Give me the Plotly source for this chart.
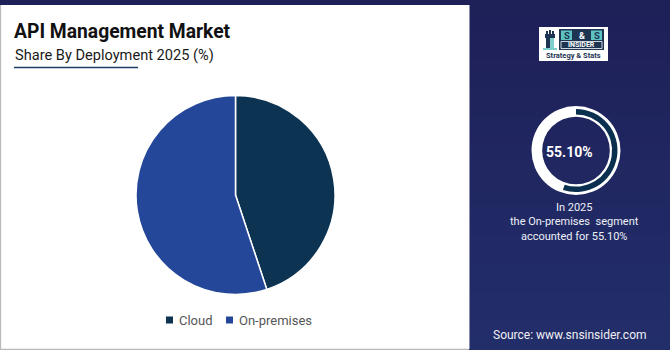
import plotly.graph_objects as go

# Market share by deployment, 2025 (%)
segments = ["Cloud", "On-premises"]
shares = [44.90, 55.10]
seg_colors = ["#0c3352", "#24479a"]

title = "API Management Market"
subtitle = "Share By Deployment 2025 (%)"
highlight_segment = "On-premises"
highlight_value = 55.10
highlight_year = 2025
source_text = "Source: www.snsinsider.com"

W, H = 670, 350
NAVY = "#1e2058"


def px(x):
    return x / W


def py(y):
    return 1 - y / H


def box(x0, y0, x1, y1):
    return dict(x=[px(x0), px(x1)], y=[py(y1), py(y0)])


fig = go.Figure()

# Main pie
fig.add_trace(go.Pie(
    labels=segments, values=shares, sort=False, direction="clockwise", rotation=0,
    marker=dict(colors=seg_colors, line=dict(color="white", width=1.5)),
    textinfo="none", hoverinfo="label+percent",
    domain=box(136, 95.5, 335, 294.5), showlegend=False,
))

# Highlight ring on the side panel
hi_idx = segments.index(highlight_segment)
fig.add_trace(go.Pie(
    values=[1], marker=dict(colors=["white"], line=dict(width=0)),
    hole=0.76, textinfo="none", hoverinfo="skip", sort=False, showlegend=False,
    domain=box(576 - 44.5, 150.5 - 44.5, 576 + 44.5, 150.5 + 44.5),
))
fig.add_trace(go.Pie(
    values=[shares[hi_idx], 100 - shares[hi_idx]],
    marker=dict(colors=["#0b2f4e", "rgba(0,0,0,0)"], line=dict(width=0)),
    hole=0.87, textinfo="none", hoverinfo="skip", sort=False,
    direction="clockwise", rotation=0, showlegend=False,
    domain=box(576 - 41.5, 150.5 - 41.5, 576 + 41.5, 150.5 + 41.5),
))

shapes = []
# side panel gradient
top_rgb = (30, 32, 88)
bot_rgb = (34, 46, 106)
n = 24
for i in range(n):
    t = i / (n - 1)
    c = tuple(round(a + (b - a) * t) for a, b in zip(top_rgb, bot_rgb))
    y0 = 350 * i / n
    y1 = 350 * (i + 1) / n + 0.5
    shapes.append(dict(type="rect", xref="paper", yref="paper", x0=px(469), x1=1,
                       y0=py(y1), y1=py(y0), fillcolor="rgb(%d,%d,%d)" % c,
                       line=dict(width=0), layer="below"))
# white content card
shapes.append(dict(type="rect", xref="paper", yref="paper", x0=0, x1=px(469),
                   y0=py(349), y1=py(5), fillcolor="white",
                   line=dict(width=0), layer="below"))
shapes.append(dict(type="line", xref="paper", yref="paper", x0=px(0.5), x1=px(0.5),
                   y0=py(349), y1=py(5), line=dict(color="#b8b8b8", width=1.2)))
shapes.append(dict(type="line", xref="paper", yref="paper", x0=0, x1=px(469),
                   y0=py(349.3), y1=py(349.3), line=dict(color="#b8b8b8", width=1.2)))
shapes.append(dict(type="line", xref="paper", yref="paper", x0=px(469.5), x1=px(469.5),
                   y0=py(349), y1=py(5), line=dict(color="#8a8cae", width=1)))
# subtitle underline
shapes.append(dict(type="line", xref="paper", yref="paper", x0=px(14), x1=px(138),
                   y0=py(67.5), y1=py(67.5), line=dict(color="#1c3f66", width=1.5)))


def rect(x0, y0, x1, y1, color):
    shapes.append(dict(type="rect", xref="paper", yref="paper", x0=px(x0), x1=px(x1),
                       y0=py(y1), y1=py(y0), fillcolor=color, line=dict(width=0)))


# logo block
rect(539, 27, 608, 61, "white")
rect(559, 29, 604, 50, "#1d3552")
rect(561, 30.5, 572, 40, "#5ec3c0")
rect(591, 30.5, 602, 40, "#5ec3c0")
shapes.append(dict(type="rect", xref="paper", yref="paper", x0=px(561), x1=px(602),
                   y0=py(48.5), y1=py(41.5), line=dict(color="white", width=0.8)))
# tower glyph
rect(545, 34, 555, 38, "#1d3552")
rect(546, 31, 548, 34, "#1d3552")
rect(549, 30, 551, 34, "#1d3552")
rect(552, 31, 554, 34, "#1d3552")
rect(546, 38, 550, 50, "#1d3552")
rect(550, 38, 554, 50, "#7fd0cc")
rect(543, 48, 557, 50, "#7fd0cc")

# legend squares and labels, laid out from the segment list
legend_y = 320
legend_x = [166, 226]
for name, color, lx in zip(segments, seg_colors, legend_x):
    rect(lx, legend_y - 3.5, lx + 7, legend_y + 3.5, color)

annotations = [
    dict(text="<b>%s</b>" % title, x=px(12), y=py(45), xanchor="left", yanchor="bottom",
         showarrow=False, font=dict(family="Roboto", size=19.3, color="#111111")),
    dict(text=subtitle, x=px(12.5), y=py(65.5), xanchor="left", yanchor="bottom",
         showarrow=False, font=dict(family="Roboto", size=14.6, color="#1a1a1a")),
    dict(text="<b>%.2f%%</b>" % highlight_value, x=px(569), y=py(152), xanchor="center",
         yanchor="middle", showarrow=False, font=dict(family="Roboto", size=14, color="white")),
    dict(text=source_text, x=px(570), y=py(335), xanchor="center", yanchor="middle",
         showarrow=False, font=dict(family="Roboto", size=12, color="#f0f0f5")),
    # logo lettering
    dict(text="<b>S</b>", x=px(566.5), y=py(35.5), xanchor="center", yanchor="middle", showarrow=False,
         font=dict(family="Roboto", size=9.5, color="#1d3552")),
    dict(text="<b>&amp;</b>", x=px(581.5), y=py(35.5), xanchor="center", yanchor="middle", showarrow=False,
         font=dict(family="Roboto", size=9, color="white")),
    dict(text="<b>S</b>", x=px(596.5), y=py(35.5), xanchor="center", yanchor="middle", showarrow=False,
         font=dict(family="Roboto", size=9.5, color="#1d3552")),
    dict(text="<b>INSIDER</b>", x=px(581.5), y=py(45), xanchor="center", yanchor="middle", showarrow=False,
         font=dict(family="Roboto", size=7, color="white")),
    dict(text="<b>Strategy &amp; Stats</b>", x=px(573.5), y=py(55.5), xanchor="center", yanchor="middle",
         showarrow=False, font=dict(family="Roboto", size=7.5, color="#1d3552")),
]

for name, lx in zip(segments, legend_x):
    annotations.append(dict(text=name, x=px(lx + 11), y=py(legend_y), xanchor="left", yanchor="middle",
                            showarrow=False, font=dict(family="Roboto", size=13, color="#555555")))

caption = ["In %d" % highlight_year,
           "the %s  segment" % highlight_segment,
           "accounted for %.2f%%" % highlight_value]
annotations.append(dict(text="<br>".join(caption), x=px(574), y=py(222), xanchor="center",
                        yanchor="middle", align="center", showarrow=False,
                        font=dict(family="Roboto", size=11, color="#eef0f8")))

fig.update_layout(
    width=W, height=H, margin=dict(l=0, r=0, t=0, b=0),
    paper_bgcolor=NAVY, plot_bgcolor=NAVY,
    shapes=shapes, annotations=annotations,
    showlegend=False,
    font=dict(family="Roboto"),
)

fig.write_html("out.html")
